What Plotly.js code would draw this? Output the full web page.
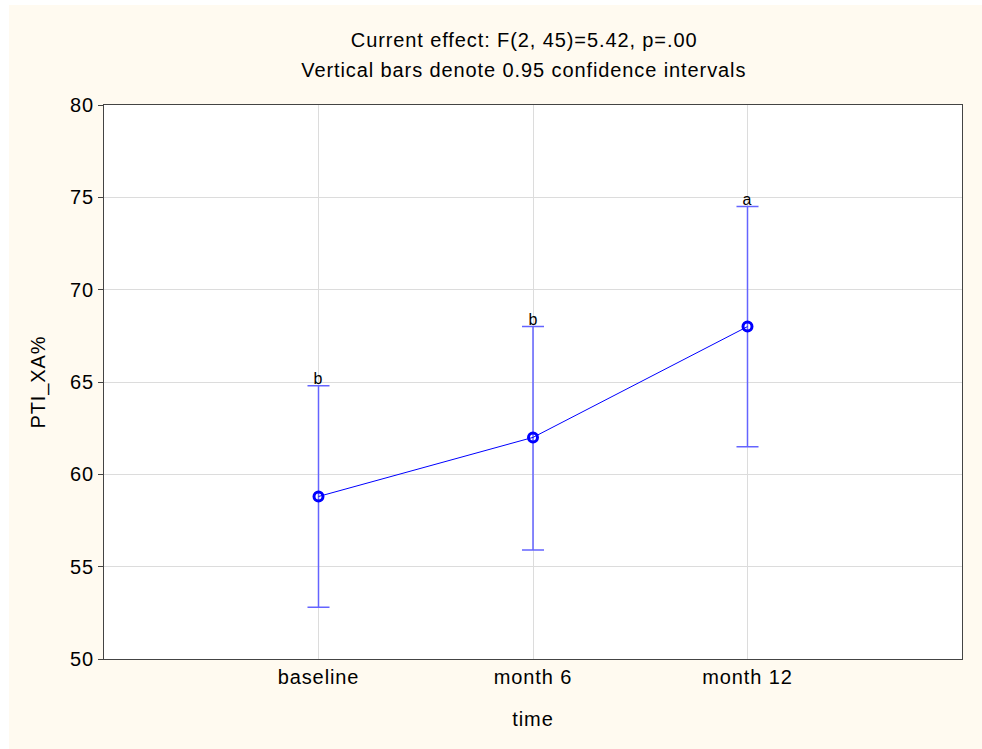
<!DOCTYPE html>
<html>
<head>
<meta charset="utf-8">
<script src="https://cdn.plot.ly/plotly-3.0.1.min.js"></script>
<style>
  html, body { margin: 0; padding: 0; background: #ffffff; }
  #chart { position: absolute; left: 9px; top: 5px; width: 973px; height: 744px; }
  #chart svg text { letter-spacing: 0.9px; }
</style>
</head>
<body>
<div id="chart"></div>
<script>
// Time points and group means with 95% confidence limits
const timePoints = ['baseline', 'month 6', 'month 12'];
const means = [58.8, 62.0, 68.0];
const ciUpper = [64.8, 68.0, 74.5];
const ciLower = [52.8, 55.9, 61.5];
const groupLetters = ['b', 'b', 'a'];

const errPlus = means.map((m, i) => ciUpper[i] - m);
const errMinus = means.map((m, i) => m - ciLower[i]);

const FONT = 'Liberation Sans, Arial, sans-serif';
const FS = 20;

const trace = {
  type: 'scatter',
  mode: 'lines+markers',
  x: timePoints,
  y: means,
  line: { color: '#0000ff', width: 1 },
  marker: { symbol: 'circle-open', size: 9, color: '#0000ff', line: { width: 3, color: '#0000ff' } },
  error_y: {
    type: 'data',
    symmetric: false,
    array: errPlus,
    arrayminus: errMinus,
    color: '#6464ff',
    thickness: 1.5,
    width: 11
  },
  hoverinfo: 'skip',
  showlegend: false
};

// Letters marking homogeneous groups, sitting on the upper caps
const letterNotes = timePoints.map((t, i) => ({
  x: t, y: ciUpper[i], xref: 'x', yref: 'y',
  text: groupLetters[i], showarrow: false,
  yanchor: 'bottom', yshift: -3,
  font: { family: FONT, size: 16, color: '#000000' }
}));

const titleNotes = [
  { text: 'Current effect: F(2, 45)=5.42, p=.00', y: 1.1173 },
  { text: 'Vertical bars denote 0.95 confidence intervals', y: 1.0632 }
].map(t => ({
  x: 0.4895, y: t.y, xref: 'paper', yref: 'paper',
  xanchor: 'center', yanchor: 'middle', showarrow: false,
  text: t.text, font: { family: FONT, size: FS, color: '#000000' }
}));

const layout = {
  width: 973,
  height: 744,
  paper_bgcolor: '#fffaf0',
  plot_bgcolor: '#ffffff',
  margin: { l: 95, r: 20, t: 100, b: 90 },
  font: { family: FONT, size: FS, color: '#000000' },
  xaxis: {
    type: 'category',
    categoryorder: 'array',
    categoryarray: timePoints,
    range: [-1, 3],
    showgrid: true,
    gridcolor: '#dcdcdc',
    gridwidth: 1,
    showline: true,
    linecolor: '#444444',
    linewidth: 1,
    mirror: true,
    ticks: '',
    tickfont: { family: FONT, size: FS },
    title: { text: 'time', font: { family: FONT, size: FS }, standoff: 24 },
    zeroline: false
  },
  yaxis: {
    range: [50, 80],
    dtick: 5,
    tick0: 50,
    showgrid: true,
    gridcolor: '#dcdcdc',
    gridwidth: 1,
    showline: true,
    linecolor: '#444444',
    linewidth: 1,
    mirror: true,
    ticks: 'outside',
    ticklen: 5,
    tickcolor: '#444444',
    tickfont: { family: FONT, size: FS },
    title: { text: 'PTI_XA%', font: { family: FONT, size: FS }, standoff: 20 },
    zeroline: false
  },
  annotations: titleNotes.concat(letterNotes)
};

Plotly.newPlot('chart', [trace], layout, { displayModeBar: false, staticPlot: true });
</script>
</body>
</html>
